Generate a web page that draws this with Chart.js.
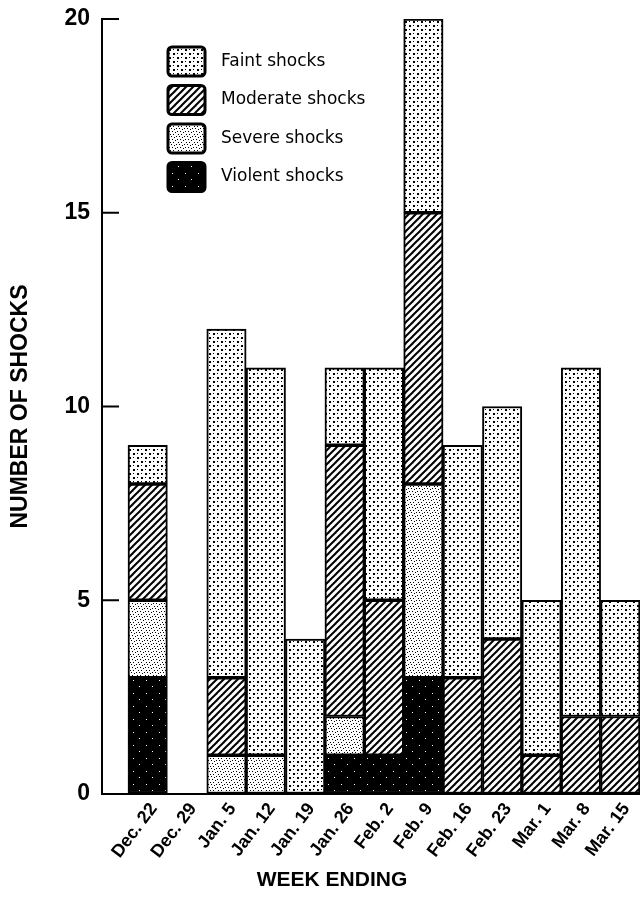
<!DOCTYPE html>
<html>
<head>
<meta charset="utf-8">
<script src="https://cdn.jsdelivr.net/npm/chart.js@4.4.1/dist/chart.umd.min.js"></script>
<style>
html,body{margin:0;padding:0;background:#fff;}
#wrap{width:640px;height:918px;position:relative;}
</style>
</head>
<body>
<div id="wrap"><canvas id="c"></canvas></div>
<script>
// ---- data ----
const categories = ["Dec. 22","Dec. 29","Jan. 5","Jan. 12","Jan. 19","Jan. 26","Feb. 2","Feb. 9","Feb. 16","Feb. 23","Mar. 1","Mar. 8","Mar. 15"];
const violent  = [3,0,0,0,0,1,1,3,0,0,0,0,0];
const severe   = [2,0,1,1,0,1,0,5,0,0,0,0,0];
const moderate = [3,0,2,0,0,7,4,7,3,4,1,2,2];
const faint    = [1,0,9,10,4,2,6,5,6,6,4,9,3];
const seriesNames = ["Violent shocks","Severe shocks","Moderate shocks","Faint shocks"];
const yTicks = [0,5,10,15,20];
const xTitle = "WEEK ENDING";
const yTitle = "NUMBER OF SHOCKS";

// ---- fill patterns ----
function makePattern(w, h, draw) {
  const cv = document.createElement('canvas');
  cv.width = w; cv.height = h;
  const g = cv.getContext('2d');
  draw(g, w, h);
  return g.createPattern(cv, 'repeat');
}
const faintPat = makePattern(8, 8, (g) => {
  g.fillStyle = '#fff'; g.fillRect(0,0,8,8);
  g.fillStyle = '#000';
  g.fillRect(1,1,2,2);
  g.fillRect(5,5,2,2);
  g.fillRect(5,1,1,1);
  g.fillRect(1,5,1,1);
});
const moderatePat = makePattern(7, 7, (g) => {
  g.fillStyle = '#fff'; g.fillRect(0,0,7,7);
  g.strokeStyle = '#000'; g.lineWidth = 2;
  for (const o of [-7, 0, 7]) {
    g.beginPath(); g.moveTo(o - 1, 8); g.lineTo(o + 8, -1); g.stroke();
  }
});
const severePat = makePattern(8, 8, (g) => {
  g.fillStyle = '#fff'; g.fillRect(0,0,8,8);
  g.fillStyle = '#000';
  const pts = [[0,0],[3,0],[6,1],[1,3],[4,3],[7,4],[2,6],[5,6]];
  for (const [x,y] of pts) g.fillRect(x,y,1,1);
});
const violentPat = makePattern(13, 13, (g) => {
  g.fillStyle = '#000'; g.fillRect(0,0,13,13);
  g.fillStyle = '#fff';
  g.fillRect(3,4,1,1); g.fillRect(9,10,1,1);
});
const fills = [violentPat, severePat, moderatePat, faintPat];
const seriesData = [violent, severe, moderate, faint];

const FONT = '"Liberation Sans", Arial, Helvetica, sans-serif';

// ---- plugins ----
const insideTicks = {
  id: 'insideTicks',
  afterDraw(chart) {
    const y = chart.scales.y, ctx = chart.ctx;
    const left = chart.chartArea.left;
    ctx.save();
    ctx.strokeStyle = '#000'; ctx.lineWidth = 2;
    yTicks.forEach(v => {
      const py = y.getPixelForValue(v);
      ctx.beginPath(); ctx.moveTo(left, py); ctx.lineTo(left + 17, py); ctx.stroke();
    });
    ctx.restore();
  }
};
const innerLegend = {
  id: 'innerLegend',
  afterDraw(chart) {
    const ctx = chart.ctx;
    const ds = chart.data.datasets.slice().reverse();
    ctx.save();
    ds.forEach((d, i) => {
      const x = 168, y = 47 + i * 38.5, w = 37, h = 29;
      ctx.fillStyle = d.backgroundColor;
      ctx.beginPath(); ctx.roundRect(x, y, w, h, 4); ctx.fill();
      ctx.lineWidth = 3; ctx.strokeStyle = '#000'; ctx.stroke();
      ctx.fillStyle = '#000';
      ctx.font = '17px "DejaVu Sans", sans-serif';
      ctx.textBaseline = 'middle';
      ctx.textAlign = 'left';
      ctx.fillText(d.label, 221, y + h / 2);
    });
    ctx.restore();
  }
};
const xTitlePlugin = {
  id: 'xTitlePlugin',
  afterDraw(chart) {
    const ctx = chart.ctx;
    ctx.save();
    ctx.fillStyle = '#000';
    ctx.font = 'bold 21px ' + FONT;
    ctx.textAlign = 'center';
    ctx.textBaseline = 'middle';
    ctx.fillText(xTitle, 332, 880);
    ctx.restore();
  }
};

// ---- chart ----
const datasets = seriesData.map((arr, k) => ({
  label: seriesNames[k],
  data: arr.map((v, i) => ({ x: i, y: v || null })),
  backgroundColor: fills[k],
  borderColor: '#000',
  borderWidth: 2,
  borderSkipped: false,
  categoryPercentage: 1,
  barPercentage: 1
}));

new Chart(document.getElementById('c'), {
  type: 'bar',
  data: { datasets },
  options: {
    responsive: true,
    maintainAspectRatio: false,
    animation: false,
    layout: { padding: { top: 19, right: 0, left: 0, bottom: 0 } },
    plugins: { legend: { display: false }, tooltip: { enabled: false } },
    scales: {
      x: {
        type: 'linear', stacked: true, min: -1.16, max: 12.5, offset: false,
        afterBuildTicks: s => { s.ticks = categories.map((c, i) => ({ value: i })); },
        afterFit: s => { s.height = 124; s.paddingLeft = 0; s.paddingRight = 0; },
        ticks: {
          autoSkip: false, maxRotation: 53, minRotation: 53, padding: 5, labelOffset: 6, color: '#000',
          font: { family: FONT, size: 18, weight: 'bold' },
          callback: v => categories[v]
        },
        grid: { display: true, drawOnChartArea: false, drawTicks: false },
        border: { display: true, color: '#000', width: 2 }
      },
      y: {
        stacked: true, min: 0, max: 20,
        afterBuildTicks: s => { s.ticks = yTicks.map(v => ({ value: v })); },
        afterFit: s => { s.width = 102; s.paddingTop = 0; s.paddingBottom = 0; },
        ticks: { padding: 12, color: '#000', font: { family: FONT, size: 23, weight: 'bold' } },
        grid: { display: true, drawOnChartArea: false, drawTicks: false },
        border: { display: true, color: '#000', width: 2 },
        title: { display: true, text: yTitle, color: '#000', font: { family: FONT, size: 23, weight: 'bold' }, padding: { top: 7, bottom: 0 } }
      }
    }
  },
  plugins: [insideTicks, innerLegend, xTitlePlugin]
});
</script>
</body>
</html>
